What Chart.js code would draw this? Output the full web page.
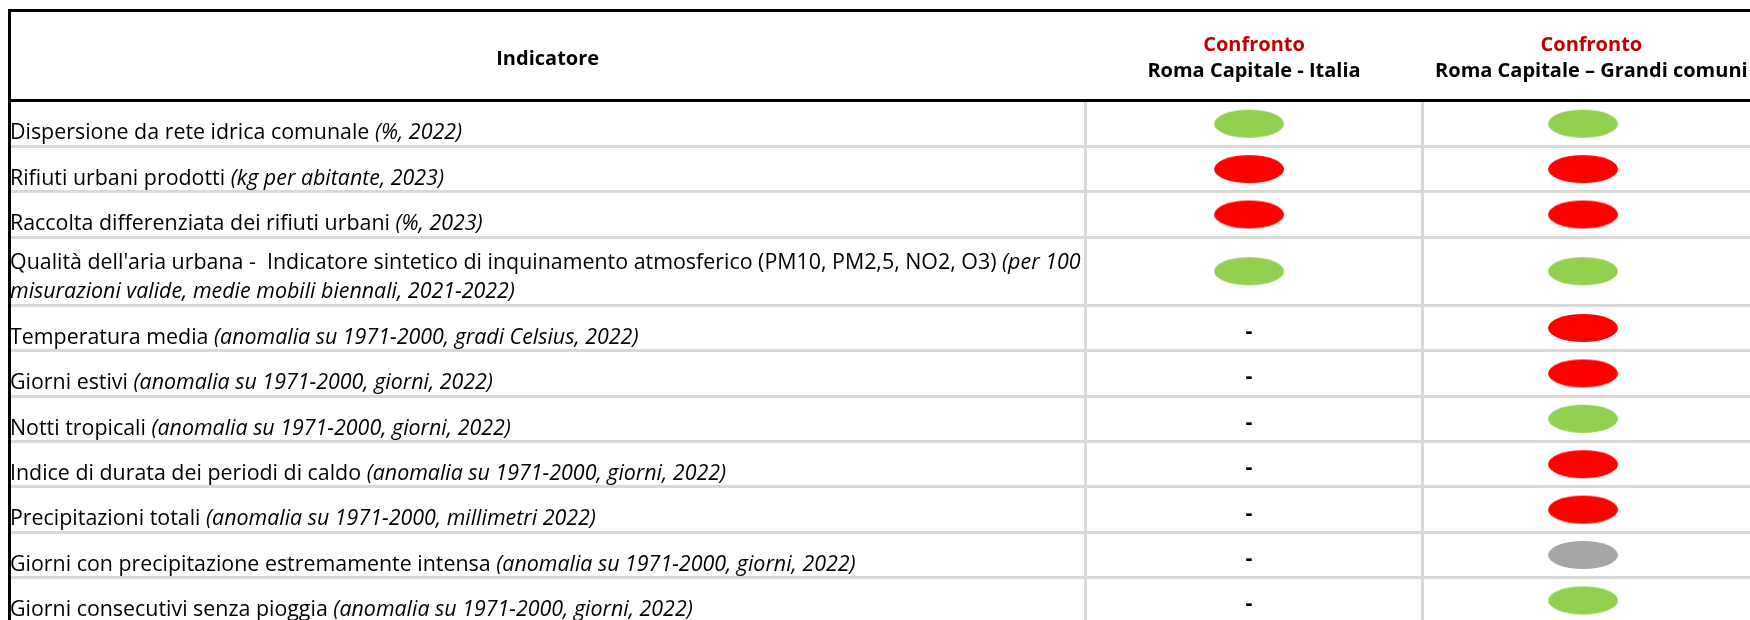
<!DOCTYPE html>
<html><head><meta charset="utf-8">
<script src="https://cdn.jsdelivr.net/npm/chart.js@4.4.0/dist/chart.umd.min.js"></script>
<style>html,body{margin:0;padding:0;background:#fff;overflow:hidden}#wrap{width:1750px;height:620px;position:relative}</style>
</head><body><div id="wrap"><canvas id="c" width="1750" height="620"></canvas></div>
<script>
// ---- DATA ----
const indicators = [
  'Dispersione da rete idrica comunale',
  'Rifiuti urbani prodotti',
  'Raccolta differenziata dei rifiuti urbani',
  "Qualità dell'aria urbana -  Indicatore sintetico di inquinamento atmosferico (PM10, PM2,5, NO2, O3)",
  'Temperatura media',
  'Giorni estivi',
  'Notti tropicali',
  'Indice di durata dei periodi di caldo',
  'Precipitazioni totali',
  'Giorni con precipitazione estremamente intensa',
  'Giorni consecutivi senza pioggia'
];
const units = [
  '(%, 2022)',
  '(kg per abitante, 2023)',
  '(%, 2023)',
  '(per 100\nmisurazioni valide, medie mobili biennali, 2021-2022)',
  '(anomalia su 1971-2000, gradi Celsius, 2022)',
  '(anomalia su 1971-2000, giorni, 2022)',
  '(anomalia su 1971-2000, giorni, 2022)',
  '(anomalia su 1971-2000, giorni, 2022)',
  '(anomalia su 1971-2000, millimetri 2022)',
  '(anomalia su 1971-2000, giorni, 2022)',
  '(anomalia su 1971-2000, giorni, 2022)'
];
const headerTitle = 'Indicatore';
const compareLabel = 'Confronto';
const comparisons = ['Roma Capitale - Italia', 'Roma Capitale \u2013 Grandi comuni'];
// 1 = favorevole (verde), -1 = sfavorevole (rosso), 0 = stabile (grigio), null = non disponibile ("-")
const confrontoItalia       = [1, -1, -1, 1, null, null, null, null, null, null, null];
const confrontoGrandiComuni = [1, -1, -1, 1, -1, -1, 1, -1, -1, 0, 1];

// ---- LAYOUT / STYLE ----
const ROW_H = 45.4, HEADER_BOTTOM = 101, LEFT = 10;
const colBounds = [0.51, 1.52];
const X_MIN = -2.7096, X_MAX = 2.5;
const COLORS = {'1': '#92D050', '-1': '#FF0000', '0': '#A6A6A6'};
const FONT = '"Open Sans", sans-serif';
const BODY_SIZE = 21.4, HEAD_SIZE = 20, LINE_H = 29.5;

// derived row geometry (in row units)
const rowTop = [], rowBottom = [], rowCenter = [];
let acc = 0;
units.forEach(u => {
  const lines = u.split('\n').length;
  const span = 1 + 0.5 * (lines - 1);
  rowTop.push(acc); acc += span; rowBottom.push(acc);
  rowCenter.push((rowTop[rowTop.length - 1] + acc) / 2);
});
const Y_MAX = (620 - HEADER_BOTTOM) / ROW_H;

function ellipseImg(color) {
  const c = document.createElement('canvas');
  c.width = 72; c.height = 30;
  const g = c.getContext('2d');
  g.fillStyle = color;
  g.beginPath(); g.ellipse(36, 15, 35, 14, 0, 0, Math.PI * 2); g.fill();
  return c;
}
const IMGS = {};
Object.keys(COLORS).forEach(k => IMGS[k] = ellipseImg(COLORS[k]));

function pts(arr, col) {
  return arr.map((v, i) => ({x: col, y: rowCenter[i], v: v})).filter(p => p.v !== null);
}
const seriesList = [confrontoItalia, confrontoGrandiComuni];

const tablePlugin = {
  id: 'tablePlugin',
  afterDraw(chart) {
    const ctx = chart.ctx, xs = chart.scales.x, ys = chart.scales.y;
    ctx.save();
    // row labels
    ctx.textBaseline = 'alphabetic'; ctx.textAlign = 'left'; ctx.fillStyle = '#000';
    indicators.forEach((name, i) => {
      const uLines = units[i].split('\n');
      const bottomPx = ys.getPixelForValue(rowBottom[i]);
      const n = uLines.length;
      let base = bottomPx - 7 - (n - 1) * LINE_H;
      let x = LEFT;
      ctx.font = BODY_SIZE + 'px ' + FONT;
      ctx.fillText(name + ' ', x, base);
      x += ctx.measureText(name + ' ').width;
      ctx.font = 'italic ' + BODY_SIZE + 'px ' + FONT;
      ctx.fillText(uLines[0], x, base);
      for (let k = 1; k < n; k++) {
        base += LINE_H;
        ctx.fillText(uLines[k], LEFT, base);
      }
    });
    // dashes for missing values
    ctx.textAlign = 'center'; ctx.textBaseline = 'middle';
    ctx.font = 'bold ' + BODY_SIZE + 'px ' + FONT;
    seriesList.forEach((arr, c) => {
      arr.forEach((v, i) => {
        if (v === null) {
          ctx.fillText('-', xs.getPixelForValue(c + 1), ys.getPixelForValue(rowCenter[i]) + 4);
        }
      });
    });
    // header
    const hx0 = (X_MIN + colBounds[0]) / 2;
    const hx = [(colBounds[0] + colBounds[1]) / 2, colBounds[1] + (colBounds[1] - colBounds[0]) / 2];
    ctx.font = 'bold ' + HEAD_SIZE + 'px ' + FONT;
    ctx.fillStyle = '#000';
    ctx.fillText(headerTitle, xs.getPixelForValue(hx0), 59);
    comparisons.forEach((t, c) => {
      const px = xs.getPixelForValue(hx[c]);
      ctx.fillStyle = '#C00000';
      ctx.fillText(compareLabel, px, 45);
      ctx.fillStyle = '#000';
      ctx.fillText(t, px, 71);
    });
    // black borders
    ctx.fillStyle = '#000';
    ctx.fillRect(8, 9, 1742, 3);
    ctx.fillRect(8, HEADER_BOTTOM - 2, 1742, 3);
    ctx.fillRect(8, 9, 3, 611);
    ctx.restore();
  }
};

new Chart(document.getElementById('c'), {
  type: 'scatter',
  data: {
    datasets: seriesList.map((arr, c) => ({
      label: comparisons[c],
      data: pts(arr, c + 1),
      pointStyle: ctx => IMGS[String(ctx.raw ? ctx.raw.v : 1)],
      pointRadius: 14,
      pointHoverRadius: 14
    }))
  },
  options: {
    responsive: false,
    animation: false,
    devicePixelRatio: 1,
    layout: {autoPadding: false, padding: {top: HEADER_BOTTOM, left: LEFT, right: 0, bottom: 0}},
    plugins: {legend: {display: false}, tooltip: {enabled: false}},
    events: [],
    scales: {
      x: {
        type: 'linear', min: X_MIN, max: X_MAX,
        ticks: {display: false},
        grid: {color: '#D9D9D9', lineWidth: 3, drawTicks: false},
        border: {display: false},
        afterBuildTicks: a => { a.ticks = colBounds.map(v => ({value: v})); }
      },
      y: {
        type: 'linear', min: 0, max: Y_MAX, reverse: true,
        ticks: {display: false},
        grid: {color: '#D9D9D9', lineWidth: 3, drawTicks: false},
        border: {display: false},
        afterBuildTicks: a => { a.ticks = rowBottom.map(v => ({value: v})); }
      }
    }
  },
  plugins: [tablePlugin]
});
</script>
</body></html>
